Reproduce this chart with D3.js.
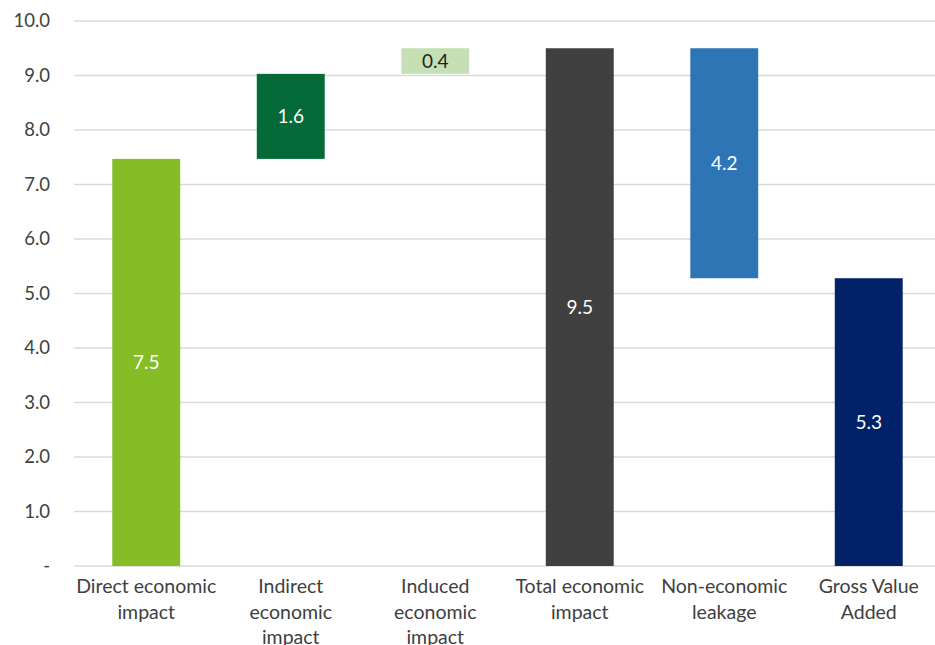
<!DOCTYPE html>
<html><head><meta charset="utf-8">
<script src="https://cdn.jsdelivr.net/npm/d3@7"></script>
<style>body{margin:0;background:#fff;} text{font-family:Lato,"Open Sans",sans-serif;}</style>
</head><body><svg id="c" width="935" height="645"></svg>
<script>
const categories = [["Direct economic","impact"],["Indirect","economic","impact"],["Induced","economic","impact"],["Total economic","impact"],["Non-economic","leakage"],["Gross Value","Added"]];
const barBase = [0, 7.47, 9.03, 0, 5.28, 0];
const barTop = [7.47, 9.03, 9.5, 9.5, 9.5, 5.28];
const valueLabels = ["7.5","1.6","0.4","9.5","4.2","5.3"];
const colors = ["#86bc25","#046a38","#c5e0b4","#404040","#2e75b6","#012169"];
const labelColors = ["#fff","#fff","#222","#fff","#fff","#fff"];
const yTicks = [0,1,2,3,4,5,6,7,8,9,10];

(function(){
const svg = d3.select("#c");
const mLeft = 74, mRight = 941, mTop = 21, mBottom = 566;
const x = d3.scaleBand().domain(d3.range(categories.length)).range([mLeft,mRight]).paddingInner(0.53).paddingOuter(0.265);
const y = d3.scaleLinear().domain([0,10]).range([mBottom,mTop]);

svg.append("g").selectAll("line").data(yTicks).join("line")
  .attr("x1",mLeft).attr("x2",mRight).attr("y1",d=>y(d)).attr("y2",d=>y(d))
  .attr("stroke","#d9d9d9").attr("stroke-width",1.5);
svg.append("g").selectAll("text").data(yTicks).join("text")
  .attr("x",50).attr("y",d=>y(d)).attr("dy","0.35em").attr("text-anchor","end")
  .attr("font-size",18.5).attr("fill","#404040")
  .text(d=>d===0?"-":d3.format(".1f")(d));

svg.append("g").selectAll("rect").data(d3.range(categories.length)).join("rect")
  .attr("x",i=>x(i)).attr("width",x.bandwidth())
  .attr("y",i=>y(barTop[i])).attr("height",i=>y(barBase[i])-y(barTop[i]))
  .attr("fill",i=>colors[i]);

svg.append("g").selectAll("text").data(d3.range(categories.length)).join("text")
  .attr("x",i=>x(i)+x.bandwidth()/2).attr("y",i=>y((barBase[i]+barTop[i])/2)).attr("dy","0.35em")
  .attr("text-anchor","middle").attr("font-size",19).attr("fill",i=>labelColors[i])
  .text(i=>valueLabels[i]);

const cl = svg.append("g").selectAll("text").data(d3.range(categories.length)).join("text")
  .attr("text-anchor","middle").attr("font-size",19.5).attr("fill","#404040");
cl.each(function(i){
  const t = d3.select(this);
  categories[i].forEach((s,k)=>{
    t.append("tspan").attr("x",x(i)+x.bandwidth()/2).attr("y",593+k*25.5).text(s);
  });
});
})();
</script></body></html>
